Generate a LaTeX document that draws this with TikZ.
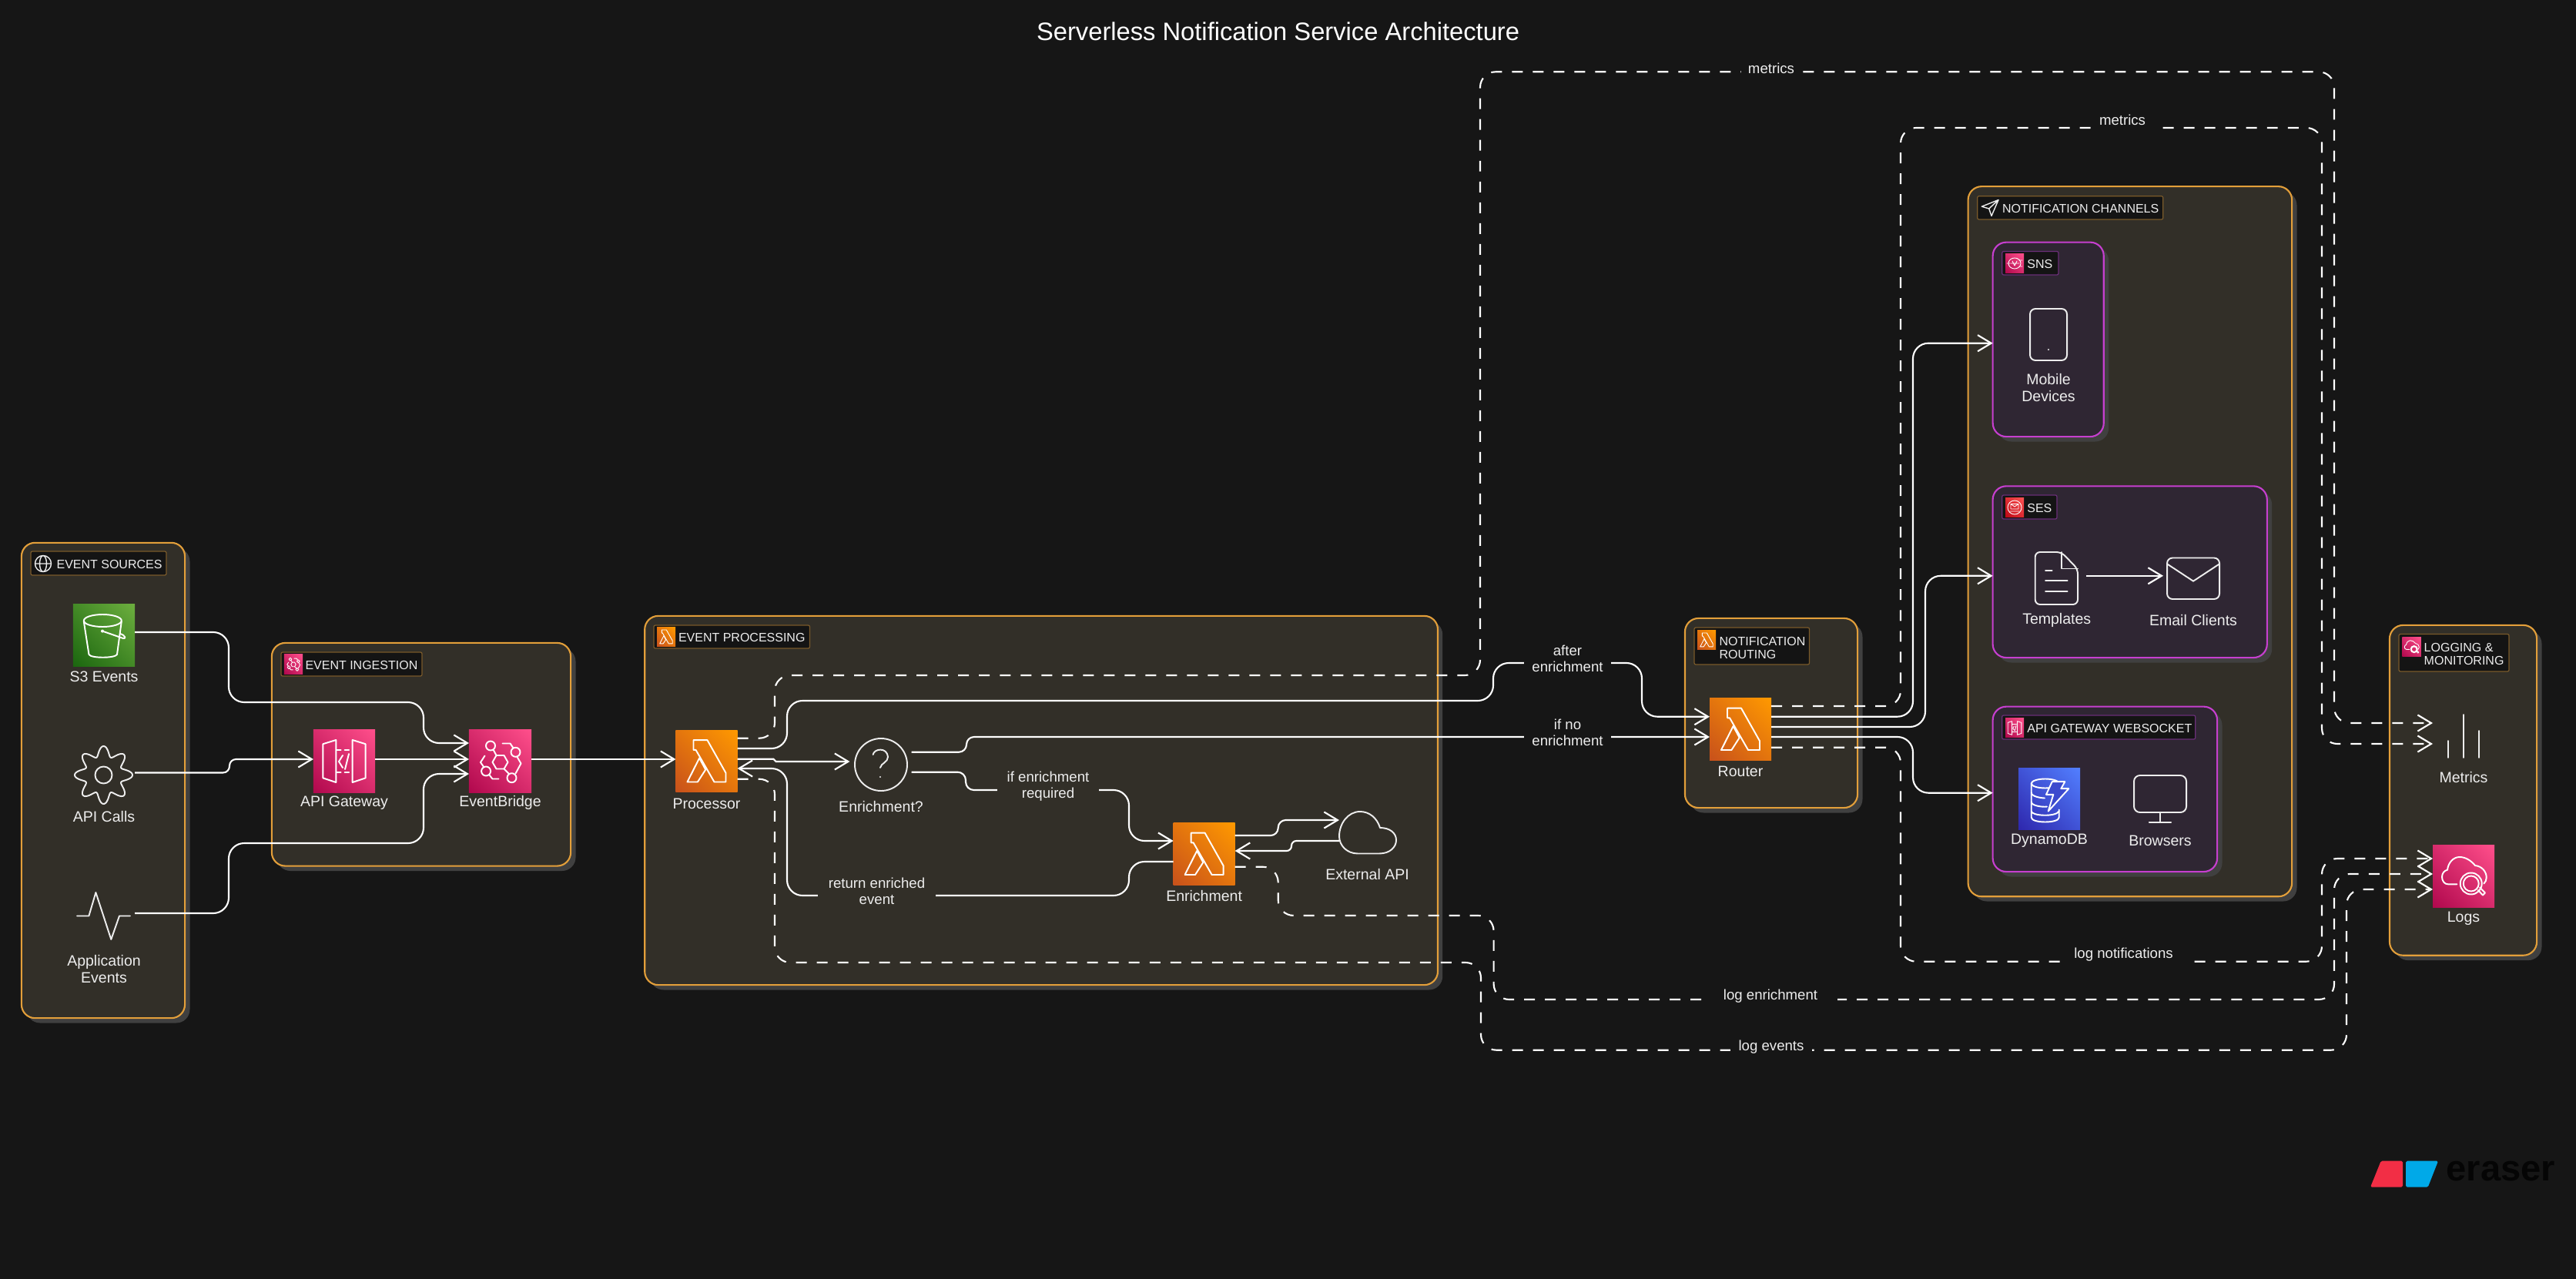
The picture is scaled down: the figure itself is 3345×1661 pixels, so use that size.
\documentclass[tikz,border=0pt]{standalone}
\usepackage{fontspec}
\setmainfont{Liberation Sans}
\usetikzlibrary{arrows.meta}
\definecolor{bgc}{HTML}{161616}
\definecolor{shadowc}{HTML}{404040}
\definecolor{panelc}{HTML}{322F28}
\definecolor{orangeln}{HTML}{E39F3A}
\definecolor{orangedim}{HTML}{7A5A2A}
\definecolor{subc}{HTML}{2F2633}
\definecolor{magln}{HTML}{C63FCF}
\definecolor{magdim}{HTML}{6A2F78}
\definecolor{tagc}{HTML}{141414}
\definecolor{inkc}{HTML}{EDEDED}
\definecolor{logored}{HTML}{F22E45}
\definecolor{logoblue}{HTML}{00A9E8}
\definecolor{logoink}{HTML}{050505}
\definecolor{greenA}{HTML}{1B660F}\definecolor{greenB}{HTML}{6CAE3E}
\definecolor{pinkA}{HTML}{B0084D}\definecolor{pinkB}{HTML}{FF4F8B}
\definecolor{orA}{HTML}{C8511B}\definecolor{orB}{HTML}{FF9900}
\definecolor{blA}{HTML}{2E27AD}\definecolor{blB}{HTML}{527FFF}
\definecolor{rdA}{HTML}{BD0816}\definecolor{rdB}{HTML}{FF5252}
\pgfdeclareverticalshading{greeng}{100bp}{color(0bp)=(greenA); color(14.6bp)=(greenA); color(85.4bp)=(greenB); color(100bp)=(greenB)}
\pgfdeclareverticalshading{pinkg}{100bp}{color(0bp)=(pinkA); color(14.6bp)=(pinkA); color(85.4bp)=(pinkB); color(100bp)=(pinkB)}
\pgfdeclareverticalshading{org}{100bp}{color(0bp)=(orA); color(14.6bp)=(orA); color(85.4bp)=(orB); color(100bp)=(orB)}
\pgfdeclareverticalshading{blg}{100bp}{color(0bp)=(blA); color(14.6bp)=(blA); color(85.4bp)=(blB); color(100bp)=(blB)}
\pgfdeclareverticalshading{rdg}{100bp}{color(0bp)=(rdA); color(14.6bp)=(rdA); color(85.4bp)=(rdB); color(100bp)=(rdB)}
\tikzset{
  sz/.style 2 args={minimum width=#1*0.28453pt, minimum height=#2*0.28453pt},
  every node/.style={inner sep=0pt, outer sep=0pt},
  panelo/.style={draw=orangeln, fill=panelc, line width=.6pt, rounded corners=5pt},
  panelm/.style={draw=magln, fill=subc, line width=.6pt, rounded corners=5pt},
  tago/.style={draw=orangedim, fill=tagc, line width=.35pt, rounded corners=.6pt},
  tagm/.style={draw=magdim, fill=tagc, line width=.35pt, rounded corners=.6pt},
  tagtext/.style={text=inkc, font=\fontsize{4.55}{5}\selectfont, align=left, anchor=west, yshift=-.3pt},
  name text/.style={text=inkc, font=\fontsize{5.55}{6.3}\selectfont, align=center, yshift=-.4pt},
  elabel/.style={text=inkc, font=\fontsize{5.3}{6}\selectfont, align=center, fill=bgc, yshift=-.4pt},
  elabelin/.style={elabel, fill=panelc},
  grad/.style={shade, shading=#1, shading angle=-45},
  conn/.style={draw=white, line width=.6pt, rounded corners=5.7pt, -{Straight Barb[length=5pt,width=6pt]}},
  dconn/.style={conn, dash pattern=on 3.98pt off 3.7pt},
  glyph/.style={draw=inkc, line width=.55pt, line join=round, line cap=round},
  glyphw/.style={draw=white, line width=.55pt, line join=round, line cap=round},
}
\newcommand{\panel}[6]{%
  \pgfmathsetmacro\pw{#5-#3}\pgfmathsetmacro\ph{#6-#4}%
  \fill[shadowc,rounded corners=5pt] ({#3+6.5},{#4+6.5}) rectangle ({#5+6.5},{#6+6.5});%
  \node[#1,sz={\pw}{\ph}] (#2) at ({(#3+#5)/2},{(#4+#6)/2}) {};}
\newcommand{\tagbox}[6]{%
  \pgfmathsetmacro\pw{#5-#3}\pgfmathsetmacro\ph{#6-#4}%
  \node[#1,sz={\pw}{\ph}] (#2) at ({(#3+#5)/2},{(#4+#6)/2}) {};}
\newcommand{\lamglyph}[4]{%
  \begin{scope}[shift={(#1,#2)},scale=#3]
    \draw[glyphw,line width=#4] (-17,-27.3) -- (1,-27.3) -- (25,15.3) -- (25,27) -- (10,27) -- (-14,-14.7) -- (-17,-14.7) -- cycle;
    \draw[glyphw,line width=#4] (-9.4,-4) -- (-1.3,11) -- (-11.6,27) -- (-25,27) -- cycle;
  \end{scope}}
\newcommand{\gwglyph}[4]{%
  \begin{scope}[shift={(#1,#2)},scale=#3]
    \draw[glyphw,line width=#4] (-27.6,-20.8) -- (-10.7,-26) -- (-10.7,29) -- (-27.6,23.4) -- cycle;
    \draw[glyphw,line width=#4] (27.6,-20.8) -- (10.7,-26) -- (10.7,29) -- (27.6,23.4) -- cycle;
    \draw[glyphw,line width=#4,dash pattern=on 1.6pt off 1.4pt] (-10,-13.4) -- (10,-13.4) (-10,16) -- (10,16);
    \draw[glyphw,line width=#4] (-2,-6) -- (-7,2) -- (-2,10) (6,-8) -- (1,12);
  \end{scope}}
\newcommand{\ebglyph}[4]{%
  \begin{scope}[shift={(#1,#2)},scale=#3]
    \draw[glyphw,line width=#4] (-10,1.3) -- (-5,-7.5) -- (5,-7.5) -- (10,1.3) -- (5,10) -- (-5,10) -- cycle;
    \draw[glyphw,line width=#4] (-12.5,-20) circle (6) (20,-11.7) circle (6) (-18.4,13) circle (6) (15,21.7) circle (6);
    \draw[glyphw,line width=#4] (-9,-15) -- (-5,-7.5) (3,-23) -- (13,-23) -- (17,-17);
    \draw[glyphw,line width=#4] (22,-5.5) -- (27,3) -- (20,16);
    \draw[glyphw,line width=#4] (-20,-7) -- (-25.5,1.5) -- (-21,8);
    \draw[glyphw,line width=#4] (-14,18) -- (-10,23) -- (-2,23) (5,10) -- (11,16);
  \end{scope}}
\newcommand{\logglyph}[4]{%
  \begin{scope}[shift={(#1,#2)},scale=#3]
    \draw[glyphw,line width=#4] (-8.7,10.3) -- (-20.3,10.3) .. controls (-25,10.3) and (-28,6) .. (-28,0.8) .. controls (-28,-4) and (-25,-7.5) .. (-21,-8.3) .. controls (-20,-18) and (-13,-25) .. (-5.3,-25) .. controls (3,-25) and (10,-20) .. (15,-14) .. controls (24,-13) and (29.7,-6) .. (29.7,1.6) .. controls (29.7,5) and (28.5,7.5) .. (26.3,9.5);
    \draw[glyphw,line width=#4] (9.7,9.5) circle (14) (9.7,9.5) circle (10);
    \draw[glyphw,line width=#4] (18.7,18) -- (25,24.5) -- (28,21.5) -- (21,14.5);
  \end{scope}}
\begin{document}
\begin{tikzpicture}[x=0.01cm,y=-0.01cm]
\fill[bgc] (0,0) rectangle (3345,1661);
\useasboundingbox (0,0) rectangle (3345,1661);

% title
\node[text=white,font=\fontsize{9.3}{11}\selectfont] (title) at (1659.6,41) {Serverless Notification Service Architecture};

% panels
\panel{panelo}{pSrc}{28}{705}{240}{1322}
\panel{panelo}{pIng}{353}{835}{741}{1124.5}
\panel{panelo}{pProc}{837.5}{800}{1866.7}{1279}
\panel{panelo}{pRoute}{2188}{803}{2412}{1049}
\panel{panelo}{pChan}{2555.7}{242.4}{2976}{1164}
\panel{panelm}{pSns}{2587.7}{314.7}{2731.7}{567}
\panel{panelm}{pSes}{2587.7}{631.4}{2943.7}{854}
\panel{panelm}{pWs}{2587.7}{917.7}{2879}{1132}
\panel{panelo}{pLog}{3103}{812}{3294}{1240.6}

% panel tags
\tagbox{tago}{tSrc}{40}{716}{216}{747}
\node[tagtext] (tSrcT) at (73.6,731.5) {EVENT SOURCES};
\draw[glyph,line width=.4pt] (56,732) circle (10.5) (56,732) ellipse (4.5 and 10.5) (45.5,732) -- (66.5,732);

\tagbox{tago}{tIng}{365}{847}{548}{878}
\node[grad=pinkg,sz={24}{25}] (tIngI) at (381,862.5) {};
\ebglyph{381}{862.5}{.32}{.25pt}
\node[tagtext] (tIngT) at (396.5,862.5) {EVENT INGESTION};

\tagbox{tago}{tProc}{849}{812}{1051.5}{842}
\node[grad=org,sz={24}{24}] (tProcI) at (865,827) {};
\lamglyph{865}{827}{.33}{.25pt}
\node[tagtext] (tProcT) at (881,827) {EVENT PROCESSING};

\tagbox{tago}{tRoute}{2200}{815}{2349.5}{863}
\node[grad=org,sz={24}{24}] (tRouteI) at (2216,831) {};
\lamglyph{2216}{831}{.33}{.25pt}
\node[tagtext] (tRouteT) at (2232.6,840.5) {NOTIFICATION\\ROUTING};

\tagbox{tago}{tChan}{2567.7}{254.7}{2808.7}{285}
\draw[glyph,line width=.4pt] (2595,259.6) -- (2573.3,268.2) -- (2582.7,271) -- (2586,280.4) -- cycle (2582.7,271) -- (2595,259.6);
\node[tagtext] (tChanT) at (2600,270) {NOTIFICATION CHANNELS};

\tagbox{tagm}{tSns}{2599.7}{326.5}{2673}{357}
\node[grad=pinkg,sz={24}{24}] (tSnsI) at (2616,342) {};
\draw[glyphw,line width=.25pt] (2616,342) ellipse (8 and 7);
\draw[glyphw,line width=.25pt] (2611,342) -- (2622,342) (2613,339) -- (2616,345) -- (2619,339) (2606,342) -- (2610,342) (2622,338) -- (2626,338) (2622,346) -- (2626,346);
\node[tagtext] (tSnsT) at (2632.3,342) {SNS};

\tagbox{tagm}{tSes}{2599.7}{643}{2671}{674}
\node[grad=rdg,sz={24}{24}] (tSesI) at (2616,659) {};
\draw[glyphw,line width=.25pt] (2616,659) circle (9);
\draw[glyphw,line width=.25pt] (2611,654.5) rectangle (2621,661) (2611,654.5) -- (2616,658) -- (2621,654.5) (2610,664) -- (2622,664);
\node[tagtext] (tSesT) at (2632.3,659) {SES};

\tagbox{tagm}{tWs}{2599.7}{929}{2850.7}{960}
\node[grad=pinkg,sz={24}{24}] (tWsI) at (2616,945) {};
\gwglyph{2616}{945}{.32}{.25pt}
\node[tagtext] (tWsT) at (2632.3,945) {API GATEWAY WEBSOCKET};

\tagbox{tago}{tLog}{3115}{823.5}{3258}{872}
\node[grad=pinkg,sz={24.5}{24}] (tLogI) at (3131.5,840) {};
\logglyph{3131.5}{840}{.33}{.25pt}
\node[tagtext] (tLogT) at (3147.7,848.5) {LOGGING \&\\MONITORING};

% icon nodes
\node[grad=greeng,sz={80}{80}] (s3) at (135,825) {};
\draw[glyphw] (133.3,806) ellipse (24.5 and 8);
\draw[glyphw] (108.8,807) -- (115.5,850) .. controls (118,855) and (149,855) .. (152,850) -- (157.8,807);
\draw[glyphw] (133,819.6) -- (160,829) .. controls (164,830) and (163,825) .. (156,823);
\fill[white] (133,819.6) circle (2);

\node[sz={80}{80}] (api) at (135,1004) {};
\draw[glyph] plot[domain=0:360,samples=180,smooth] ({134.5+(31+6.5*cos(8*\x))*cos(\x)},{1006.5+(31+6.5*cos(8*\x))*sin(\x)});
\draw[glyph] (134.5,1006.5) circle (11);

\node[sz={80}{80}] (app) at (135,1186) {};
\draw[glyph] (100,1189.5) -- (115.4,1189.5) -- (124.4,1159) -- (144.3,1220) -- (155,1189.5) -- (169,1189.5);

\node[grad=pinkg,sz={80}{81}] (gw) at (447,988.5) {};
\gwglyph{447}{987}{1}{.55pt}
\node[grad=pinkg,sz={81}{81}] (eb) at (649.5,988.5) {};
\ebglyph{649.5}{988.5}{1}{.55pt}

\node[grad=org,sz={80}{80}] (proc) at (917.5,988.5) {};
\lamglyph{917.5}{988.5}{1}{.55pt}
\node[sz={80}{68}] (enq) at (1143.5,993) {};
\draw[glyph] (1144,993) circle (34);
\draw[glyph] (1133.6,980) .. controls (1135,972) and (1152,970) .. (1153,983) .. controls (1153,990) and (1144,991) .. (1143,997);
\fill[inkc] (1143,1009) circle (1.2);

\node[grad=org,sz={80}{80}] (enr) at (1563.6,1109) {};
\lamglyph{1563.6}{1109}{1}{.55pt}
\node[sz={73}{80}] (ext) at (1775.5,1081) {};
\draw[glyph] (1763,1108.5) -- (1791,1108.5) .. controls (1805,1108.5) and (1813,1100) .. (1813,1091) .. controls (1813,1082) and (1805,1075) .. (1792,1075) .. controls (1788,1062) and (1778,1054) .. (1766,1054) .. controls (1750,1054) and (1739,1070) .. (1739,1086) .. controls (1739,1098) and (1749,1108.5) .. (1763,1108.5) -- cycle;

\node[grad=org,sz={80}{80}] (router) at (2260,947) {};
\lamglyph{2260}{947}{1}{.55pt}

\node[sz={48}{67}] (mobile) at (2660,434.5) {};
\draw[glyph,rounded corners=2pt] (2636,401) rectangle (2684,468);
\fill[inkc] (2660,454) circle (1.2);

\node[sz={76}{68}] (tmpl) at (2670.7,751) {};
\draw[glyph,rounded corners=1.8pt] (2642.7,717) -- (2676.7,717) -- (2698,739) -- (2698,785) -- (2642.7,785) -- cycle;
\draw[glyph] (2676.7,717) -- (2676.7,738.5) -- (2698,738.5);
\draw[glyph] (2656,741) -- (2664.7,741) (2656,754) -- (2684.7,754) (2656,767.8) -- (2684.7,767.8);

\node[sz={78}{54}] (email) at (2848,751) {};
\draw[glyph,rounded corners=2pt] (2814,724.5) rectangle (2882,778);
\draw[glyph] (2815,733) -- (2848,754.7) -- (2881,733);

\node[grad=blg,sz={80}{80}] (ddb) at (2661,1037.5) {};
\begin{scope}[shift={(2661,1037.5)}]
  \draw[glyphw] (-5.3,-20) ellipse (18 and 6);
  \draw[glyphw] (-23.3,-20) -- (-23.3,24) .. controls (-23.3,32) and (12.7,32) .. (12.7,24) -- (12.7,14);
  \draw[glyphw] (-23.3,-8) .. controls (-23.3,-3) and (-10,-1) .. (-6,-1);
  \draw[glyphw] (-23.3,4) .. controls (-23.3,9) and (-8,11) .. (-3,10);
  \draw[glyphw] (-23.3,16) .. controls (-23.3,22) and (8,24) .. (12.7,16);
  \fill[blA!60!blB] (3.7,-22.3) -- (20.3,-22.3) -- (15.3,-13.3) -- (25.3,-13.3) -- (-1.3,16) -- (5.3,-5.7) -- (-4,-5.7) -- cycle;
  \draw[glyphw] (3.7,-22.3) -- (20.3,-22.3) -- (15.3,-13.3) -- (25.3,-13.3) -- (-1.3,16) -- (5.3,-5.7) -- (-4,-5.7) -- cycle;
\end{scope}

\node[sz={68}{61}] (browser) at (2805,1037) {};
\draw[glyph,rounded corners=2.2pt] (2771,1007) rectangle (2839,1055);
\draw[glyph] (2805,1055) -- (2805,1067.7) (2790.7,1067.7) -- (2819,1067.7);

\node[sz={80}{56}] (metrics) at (3199,956) {};
\draw[glyph] (3179,962) -- (3179,984) (3199,928) -- (3199,984) (3219,949) -- (3219,984);

\node[grad=pinkg,sz={80}{80}] (logs) at (3199,1138) {};
\logglyph{3199}{1138}{1}{.55pt}

% name labels
\node[name text] (ls3) at (135,877) {S3 Events};
\node[name text] (lapi) at (135,1059) {API Calls};
\node[name text] (lapp) at (135,1257) {Application\\Events};
\node[name text] (lgw) at (447,1041) {API Gateway};
\node[name text] (leb) at (649.5,1041) {EventBridge};
\node[name text] (lproc) at (917.5,1042) {Processor};
\node[name text] (lenq) at (1144,1046) {Enrichment?};
\node[name text] (lenr) at (1563.6,1162) {Enrichment};
\node[name text] (lext) at (1775.5,1134) {External API};
\node[name text] (lrouter) at (2260,1000) {Router};
\node[name text] (lmobile) at (2660,502) {Mobile\\Devices};
\node[name text] (ltmpl) at (2670.7,803.7) {Templates};
\node[name text] (lemail) at (2848,803.7) {Email Clients};
\node[name text] (lddb) at (2661,1090) {DynamoDB};
\node[name text] (lbrowser) at (2805,1090) {Browsers};
\node[name text] (lmetrics) at (3199,1008.5) {Metrics};
\node[name text] (llogs) at (3199,1191) {Logs};

% connectors: sources to ingestion
\draw[conn] (s3.east |- 0,821) -- (297,821) -- (297,912) -- (550,912) -- (550,965) -- (eb.west |- 0,965);
\draw[conn,rounded corners=2.4pt] (api.east |- 0,1003.5) -- (298,1003.5) -- (298,986) -- (gw.west |- 0,986);
\draw[conn] (app.east |- 0,1186) -- (297,1186) -- (297,1095) -- (550,1095) -- (550,1005) -- (eb.west |- 0,1005);
\draw[conn] (gw.east |- 0,986) -- (eb.west |- 0,986);
\draw[conn] (eb.east |- 0,986) -- (proc.west |- 0,986);

% processing
\draw[conn,rounded corners=.45pt] (proc.east |- 0,985.7) -- (1006,985.7) -- (1006,989) -- (enq.west |- 0,989);
\draw[conn] (enq.east |- 0,1002.7) [rounded corners=3pt] -- (1254,1002.7) -- (1254,1026) [rounded corners=5.7pt] -- (1466,1026) -- (1466,1092) -- (enr.west |- 0,1092);
\draw[conn] (enr.west |- 0,1119) -- (1466,1119) -- (1466,1163) -- (1022,1163) -- (1022,998) -- (proc.east |- 0,998);
\draw[conn,rounded corners=2.8pt] (enr.east |- 0,1085) -- (1659.7,1085) -- (1659.7,1065) -- (ext.west |- 0,1065);
\draw[conn,rounded corners=1.8pt] (ext.west |- 0,1092) -- (1677,1092) -- (1677,1105) -- (enr.east |- 0,1105);

% to router
\draw[conn] (proc.east |- 0,972) -- (1022,972) -- (1022,910) -- (1939,910) -- (1939,861) -- (2132,861) -- (2132,930.7) -- (router.west |- 0,930.7);
\draw[conn,rounded corners=2.8pt] (enq.east |- 0,976.7) -- (1255,976.7) -- (1255,957) -- (router.west |- 0,957);

% router out
\draw[conn] (router.east |- 0,930.7) -- (2484,930.7) -- (2484,445.7) -- (pSns.west |- 0,445.7);
\draw[conn] (router.east |- 0,944) -- (2500,944) -- (2500,747.8) -- (pSes.west |- 0,747.8);
\draw[conn] (router.east |- 0,957) -- (2484,957) -- (2484,1029.7) -- (pWs.west |- 0,1029.7);
\draw[conn] (tmpl.east |- 0,747.8) -- (email.west |- 0,747.8);

% dashed
\draw[dconn] (proc.east |- 0,958.7) -- (1006,958.7) -- (1006,877) -- (1922,877) -- (1922,93.3) -- (3031,93.3) -- (3031,939) -- (metrics.west |- 0,939);
\draw[dconn] (router.east |- 0,917) -- (2468,917) -- (2468,166) -- (3015,166) -- (3015,966) -- (metrics.west |- 0,966);
\draw[dconn] (proc.east |- 0,1011.7) -- (1006,1011.7) -- (1006,1250) -- (1923,1250) -- (1923,1363.7) -- (3047,1363.7) -- (3047,1155) -- (logs.west |- 0,1155);
\draw[dconn] (enr.east |- 0,1125.7) -- (1659.7,1125.7) -- (1659.7,1189) -- (1939.6,1189) -- (1939.6,1298) -- (3031,1298) -- (3031,1135) -- (logs.west |- 0,1135);
\draw[dconn] (router.east |- 0,970.7) -- (2468,970.7) -- (2468,1248.7) -- (3015,1248.7) -- (3015,1115) -- (logs.west |- 0,1115);

% connector labels
\node[elabel,sz={113}{43}] (eAfter) at (2035.5,853.5) {after\\enrichment};
\node[elabel,sz={113}{43}] (eNo) at (2035.5,949.5) {if no\\enrichment};
\node[elabelin,sz={132}{43}] (eReq) at (1361,1019.5) {if enrichment\\required};
\node[elabelin,sz={153}{43}] (eRet) at (1138.5,1156) {return enriched\\event};
\node[elabel,sz={79}{24}] (eM1) at (2300,87) {metrics};
\node[elabel,sz={79}{28}] (eM2) at (2756,154) {metrics};
\node[elabel,sz={163}{28}] (eLn) at (2757.5,1238) {log notifications};
\node[elabel,sz={174}{26}] (eLe) at (2299,1292.7) {log enrichment};
\node[elabel,sz={106}{26}] (eLv) at (2300,1358) {log events};

% logo
\fill[logored,rounded corners=.5pt] (3091.7,1507.7) -- (3120,1507.7) -- (3120,1541.7) -- (3078,1541.7) -- cycle;
\fill[logoblue,rounded corners=.5pt] (3124,1507.7) -- (3166,1507.7) -- (3152.7,1541.7) -- (3124,1541.7) -- cycle;
\node[text=logoink,font=\fontsize{13.4}{16}\selectfont\bfseries] (wordmark) at (3247.5,1521) {eraser};
\end{tikzpicture}
\end{document}
